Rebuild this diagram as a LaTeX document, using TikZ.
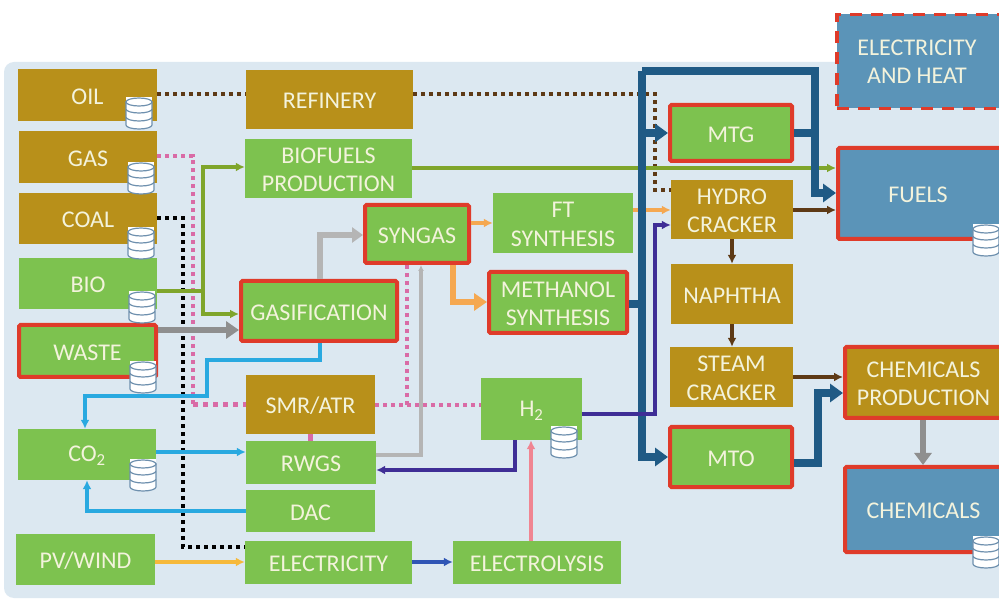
\documentclass[tikz,border=0pt]{standalone}
\usepackage{fontspec}
\setmainfont{Carlito}
\usetikzlibrary{arrows.meta,calc}
\definecolor{bgc}{HTML}{DCE8F1}
\definecolor{goldc}{HTML}{B8901A}
\definecolor{greenc}{HTML}{7DC24F}
\definecolor{bluec}{HTML}{5B94B8}
\definecolor{redc}{HTML}{DF3B2A}
\definecolor{navyc}{HTML}{1F5A85}
\definecolor{oliveb}{HTML}{7FA52B}
\definecolor{brownc}{HTML}{5E3A16}
\definecolor{pinkc}{HTML}{D96BA6}
\definecolor{orangec}{HTML}{F5A851}
\definecolor{skyc}{HTML}{29A9E0}
\definecolor{purplec}{HTML}{3F2E96}
\definecolor{greyd}{HTML}{8F8F8F}
\definecolor{greyl}{HTML}{B5B5B5}
\definecolor{yellowc}{HTML}{F6B93B}
\definecolor{bluee}{HTML}{2F55B5}
\definecolor{rosec}{HTML}{F08592}
\definecolor{dbline}{HTML}{6E90AE}
\definecolor{txtc}{HTML}{F3F3DC}
\tikzset{
 basebox/.style={rectangle,inner sep=0pt,text=txtc,align=center,font=\fontsize{24}{28.5}\selectfont},
 gold/.style={basebox,fill=goldc},
 green/.style={basebox,fill=greenc},
 blue/.style={basebox,fill=bluec},
 redline/.style={draw=redc,line width=4pt,rounded corners=1.5pt},
 conn/.style={-{Latex[length=9pt,width=9pt]},line width=3.5pt},
 plain/.style={line width=3.5pt},
 dot/.style={line width=4pt,dash pattern=on 4pt off 4pt},
 navytip/.style={-{Triangle[length=13pt,width=18pt]},navyc,line width=7.5pt},
 dbicon/.pic={
  \fill[white] (-13,-15) rectangle (13,0);
  \foreach \yy in {6,-2,-10}{
   \draw[dbline,fill=white,line width=1.2pt] (-13,\yy) -- (-13,\yy+7) arc[start angle=180,end angle=0,x radius=13,y radius=4] -- (13,\yy) -- cycle;
  }
  \draw[dbline,fill=white,line width=1.2pt] (0,-10) ellipse[x radius=13,y radius=4];
 }
}
\newcommand{\mybox}[7]{\node[#2,minimum width={(#5-#3)*1pt},minimum height={(#6-#4)*1pt}] (#1) at ({(#3+#5)/2},{(#4+#6)/2}) {\rule{0pt}{18.5pt}#7};}
\newcommand{\myred}[7]{\node[#2,redline,minimum width={(#5-#3-4)*1pt},minimum height={(#6-#4-4)*1pt}] (#1) at ({(#3+#5)/2},{(#4+#6)/2}) {\rule{0pt}{18.5pt}#7};}
\begin{document}
\begin{tikzpicture}[x=1pt,y=-1pt]
\clip (0,0) rectangle (999,601);
\fill[white] (0,0) rectangle (999,601);
\fill[bgc,rounded corners=10pt] (4,62) rectangle (1020,598);
% boxes
\mybox{oil}{gold}{18}{69}{157}{121}{OIL}
\mybox{gas}{gold}{19}{131}{157}{183}{GAS}
\mybox{coal}{gold}{19}{193}{157}{244}{COAL}
\mybox{bio}{green}{19}{258}{157}{309}{BIO}
\myred{waste}{green}{17}{323}{158}{379}{WASTE}
\mybox{co2}{green}{18}{429}{156}{480}{CO\textsubscript{2}}
\mybox{pv}{green}{16}{534}{155}{585}{PV/WIND}
\mybox{refinery}{gold}{246}{70}{413}{129}{REFINERY}
\mybox{biofuels}{green}{245}{139}{412}{198}{BIOFUELS\\PRODUCTION}
\myred{gasif}{green}{239}{279}{399}{343}{GASIFICATION}
\mybox{smr}{gold}{246}{375}{375}{434}{SMR/ATR}
\mybox{rwgs}{green}{246}{441}{376}{484}{RWGS}
\mybox{dac}{green}{246}{490}{375}{532}{DAC}
\mybox{elec}{green}{245}{541}{412}{584}{ELECTRICITY}
\myred{syngas}{green}{363}{203}{471}{265}{SYNGAS}
\mybox{ft}{green}{493}{193}{633}{253}{FT\\SYNTHESIS}
\myred{meth}{green}{487}{270}{629}{335}{METHANOL\\SYNTHESIS}
\mybox{h2}{green}{481}{378}{582}{440}{H\textsubscript{2}}
\mybox{lysis}{green}{453}{541}{621}{584}{ELECTROLYSIS}
\myred{mtg}{green}{668}{103}{794}{163}{MTG}
\mybox{hydro}{gold}{671}{180}{793}{239}{HYDRO\\CRACKER}
\mybox{naph}{gold}{671}{264}{793}{324}{NAPHTHA}
\mybox{steam}{gold}{670}{347}{793}{407}{STEAM\\CRACKER}
\myred{mto}{green}{668}{425}{794}{489}{MTO}
\myred{chemp}{gold}{843}{345}{1004}{420}{CHEMICALS\\PRODUCTION}
\myred{chem}{blue}{843}{465}{1004}{554}{CHEMICALS}
\myred{fuels}{blue}{836}{146}{1004}{241}{\hspace*{-4pt}FUELS}
\node[blue,draw=redc,line width=3.5pt,dash pattern=on 12pt off 9pt,minimum width=165pt,minimum height=94pt] (eh) at (919.5,61.5) {\hspace*{-5pt}ELECTRICITY\\\hspace*{-5pt}AND HEAT};
% dotted lines
\draw[brownc,dot] (oil.east |- 0,94) -- (refinery.west |- 0,94);
\coordinate (rh1) at (655,94);
\coordinate (rh2) at (655,190);
\draw[brownc,dot] (refinery.east |- 0,94) -- (rh1) -- (rh2) -- (hydro.west |- rh2);
\coordinate (gp1) at (193,156);
\coordinate (gp2) at (193,405);
\draw[pinkc,dot] (gas.east |- gp1) -- (gp1) -- (gp2);
\draw[pinkc,line width=5pt,dash pattern=on 5pt off 5pt] (gp2) -- (smr.west |- gp2);
\draw[pinkc,dot] (smr.east |- gp2) -- (h2.west |- gp2);
\coordinate (sg) at (407,405);
\draw[pinkc,dot] (sg) -- (syngas.south -| sg);
\draw[pinkc,line width=5pt] (smr.south -| 310,0) -- (rwgs.north -| 310,0);
\coordinate (cb1) at (183,218);
\coordinate (cb2) at (183,547);
\draw[black,line width=4pt,dash pattern=on 4pt off 4pt] (coal.east |- cb1) -- (cb1) -- (cb2) -- (elec.west |- cb2);
% bio
\coordinate (bj) at (203,291);
\draw[oliveb,plain] (bio.east |- bj) -- (bj);
\draw[oliveb,conn] (bj) |- (biofuels.west |- 0,167);
\draw[oliveb,conn] (bj) |- (gasif.west |- 0,314);
\draw[oliveb,conn] (biofuels.east |- 0,168) -- (fuels.west |- 0,168);
% co2 lines
\coordinate (c1) at (320,360);
\coordinate (c2) at (207,360);
\coordinate (c3) at (207,396);
\coordinate (c4) at (85,396);
\draw[skyc,conn] (gasif.south -| c1) -- (c1) -- (c2) -- (c3) -- (c4) -- (co2.north -| c4);
\draw[skyc,conn] (co2.east |- 0,452) -- (rwgs.west |- 0,452);
\coordinate (d1) at (87,511);
\draw[skyc,conn] (dac.west |- d1) -- (d1) -- (co2.south -| d1);
% waste / grey
\draw[greyd,-{Triangle[length=13pt,width=17pt]},line width=6pt] (waste.east |- 0,330) -- (gasif.west |- 0,330);
\coordinate (g1) at (320,235);
\draw[greyl,-{Triangle[length=11pt,width=15pt]},line width=6pt] (gasif.north -| g1) -- (g1) -- (syngas.west |- g1);
\coordinate (r1) at (421,455);
\draw[greyl,-{Latex[length=6pt,width=6pt]},line width=3.5pt] (rwgs.east |- r1) -- (r1) -- (syngas.south -| r1);
% orange
\draw[orangec,conn] (syngas.east |- 0,223) -- (ft.west |- 0,223);
\draw[orangec,conn] (ft.east |- 0,210) -- (hydro.west |- 0,210);
\coordinate (o1) at (453,302);
\draw[orangec,-{Triangle[length=13pt,width=17pt]},line width=6pt] (syngas.south -| o1) -- (o1) -- (meth.west |- o1);
% navy
\coordinate (n0) at (642,304);
\coordinate (n1) at (642,71);
\coordinate (n2) at (642,457);
\coordinate (n3) at (815,71);
\coordinate (n4) at (815,193);
\coordinate (n5) at (642,133);
\draw[navyc,line width=7.5pt] (meth.east |- n0) -- (n0);
\draw[navytip] (n1) -- (n2) -- (mto.west |- n2);
\draw[navytip] (n1) -- (n3) -- (n4) -- (fuels.west |- n4);
\draw[navytip] (n5) -- (mtg.west |- n5);
\draw[navyc,line width=7.5pt] (mtg.east |- n5) -- (n3 |- n5);
\coordinate (m1) at (818,463);
\coordinate (m2) at (818,393);
\draw[navytip] (mto.east |- m1) -- (m1) -- (m2) -- (chemp.west |- m2);
% purple
\coordinate (p1) at (515,470);
\draw[purplec,conn] (h2.south -| p1) -- (p1) -- (rwgs.east |- p1);
\coordinate (p2) at (655,414);
\coordinate (p3) at (655,225);
\draw[purplec,conn] (h2.east |- p2) -- (p2) -- (p3) -- (hydro.west |- p3);
% thin
\draw[yellowc,conn] (pv.east |- 0,562) -- (elec.west |- 0,562);
\draw[bluee,conn] (elec.east |- 0,562) -- (lysis.west |- 0,562);
\draw[rosec,conn] (lysis.north -| 531,0) -- (h2.south -| 531,0);
\draw[brownc,conn] (hydro.east |- 0,210) -- (fuels.west |- 0,210);
\draw[brownc,conn] (hydro.south -| 732,0) -- (naph.north -| 732,0);
\draw[brownc,conn] (naph.south -| 732,0) -- (steam.north -| 732,0);
\draw[brownc,conn] (steam.east |- 0,377) -- (chemp.west |- 0,377);
\draw[greyd,-{Triangle[length=12pt,width=17pt]},line width=6pt] (chemp.south -| 923,0) -- (chem.north -| 923,0);
% storage icons
\path (139,112) pic {dbicon};
\path (141,177) pic {dbicon};
\path (141,242) pic {dbicon};
\path (142,306) pic {dbicon};
\path (143,376) pic {dbicon};
\path (143,474) pic {dbicon};
\path (564,441) pic {dbicon};
\path (986,239) pic {dbicon};
\path (986,551) pic {dbicon};
\end{tikzpicture}
\end{document}
